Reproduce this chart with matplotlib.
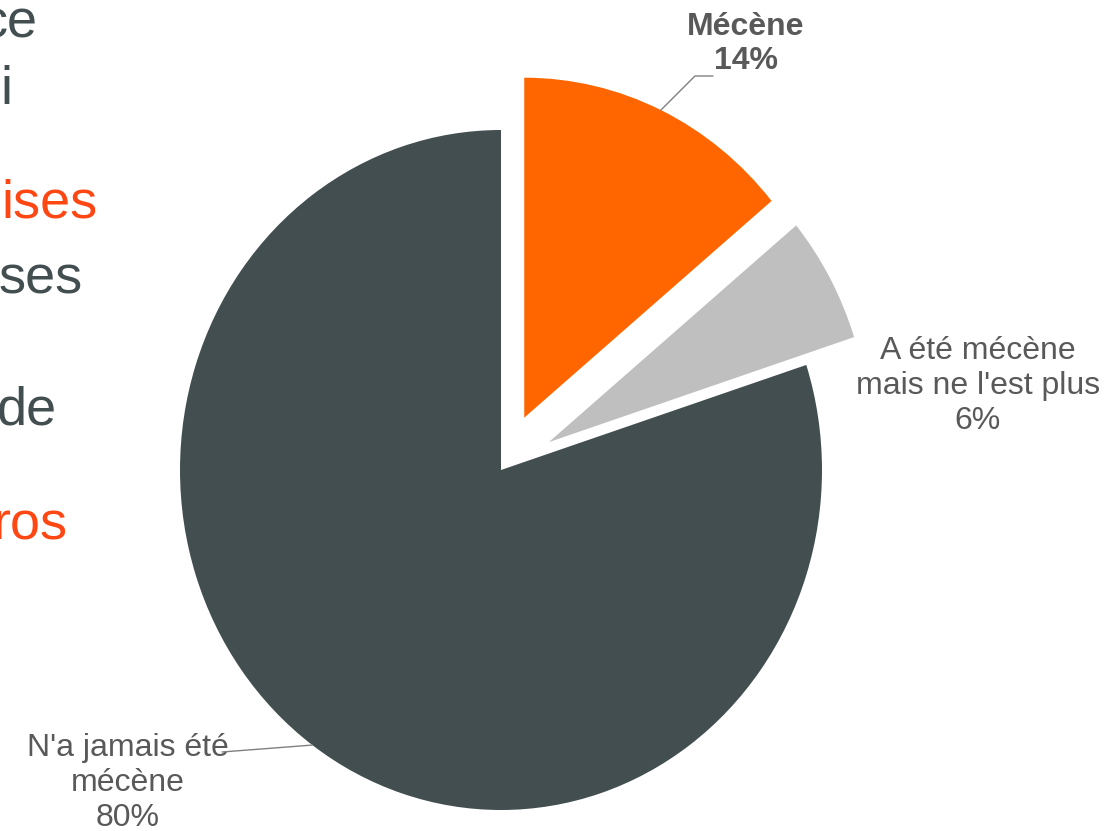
import numpy as np
import matplotlib
matplotlib.use('Agg')
import matplotlib.pyplot as plt

plt.rcParams['font.family'] = ['Liberation Sans', 'DejaVu Sans']

# Données du graphique
categories = ['Mécène', "A été mécène\nmais ne l'est plus", "N'a jamais été\nmécène"]
values = [14, 6, 80]
colors = ['#FF6600', '#BFBFBF', '#434E50']
explode = [0.17, 0.17, 0.0]

# Morceaux de texte coupés à gauche (reste de la diapositive)
side_texts = ['ce', 'i', 'ises', 'ses', 'de', 'ros']
side_colors = ['#434E50', '#434E50', '#FF4713', '#434E50', '#434E50', '#FF4713']

W, H = 1111, 831
CX, CY, RX, RY = 501, 470, 321, 340  # centre et rayons du camembert en pixels


def to_data(px, py):
    # pixels (origine en haut à gauche) -> coordonnées du camembert
    return (px - CX) / RX, (CY - py) / RY


fig = plt.figure(figsize=(W / 100, H / 100), dpi=100)
ax = fig.add_axes([0, 0, 1, 1])

wedges, _ = ax.pie(values, colors=colors, explode=explode, startangle=90,
                   counterclock=False, radius=1.0,
                   wedgeprops={'linewidth': 0, 'clip_on': False})
ax.set_aspect('auto')
x0, y1 = to_data(0, 0)
x1, y0 = to_data(W, H)
ax.set_xlim(x0, x1)
ax.set_ylim(y0, y1)
ax.axis('off')

txt_color = '#595959'
line_color = '#808080'
fs = 23


def edge_point(w):
    # point du bord de la part, au milieu de l'arc
    mid = np.deg2rad((w.theta1 + w.theta2) / 2)
    cx, cy = w.center
    return cx + w.r * np.cos(mid), cy + w.r * np.sin(mid)


# Mécène (gras, avec ligne coudée)
ax.text(*to_data(746, 44), f'{categories[0]}\n{values[0]}%', ha='center', va='center',
        fontsize=fs, fontweight='bold', color=txt_color, linespacing=1.15)
ax.annotate('', xy=edge_point(wedges[0]), xytext=to_data(713, 76),
            arrowprops=dict(arrowstyle='-', color=line_color, lw=1,
                            connectionstyle='angle,angleA=180,angleB=45,rad=0',
                            shrinkA=0, shrinkB=0))

# A été mécène
ax.text(*to_data(978, 386), f'{categories[1]}\n{values[1]}%', ha='center', va='center',
        fontsize=fs, color=txt_color, linespacing=1.2)

# N'a jamais été mécène
ax.text(*to_data(128, 783), f'{categories[2]}\n{values[2]}%', ha='center', va='center',
        fontsize=fs, color=txt_color, linespacing=1.2)
ax.annotate('', xy=edge_point(wedges[2]), xytext=to_data(222, 752),
            arrowprops=dict(arrowstyle='-', color=line_color, lw=1,
                            shrinkA=0, shrinkB=0))

# Textes coupés sur le bord gauche
side_right = [38, 12, 98, 83, 57, 68]
side_y = [24, 90, 203, 280, 410, 525]
for t, c, xr, yc in zip(side_texts, side_colors, side_right, side_y):
    fig.text(xr / W, 1 - yc / H, t, ha='right', va='center', fontsize=39, color=c)

fig.savefig('out.png', dpi=100, facecolor='white')
plt.close(fig)
